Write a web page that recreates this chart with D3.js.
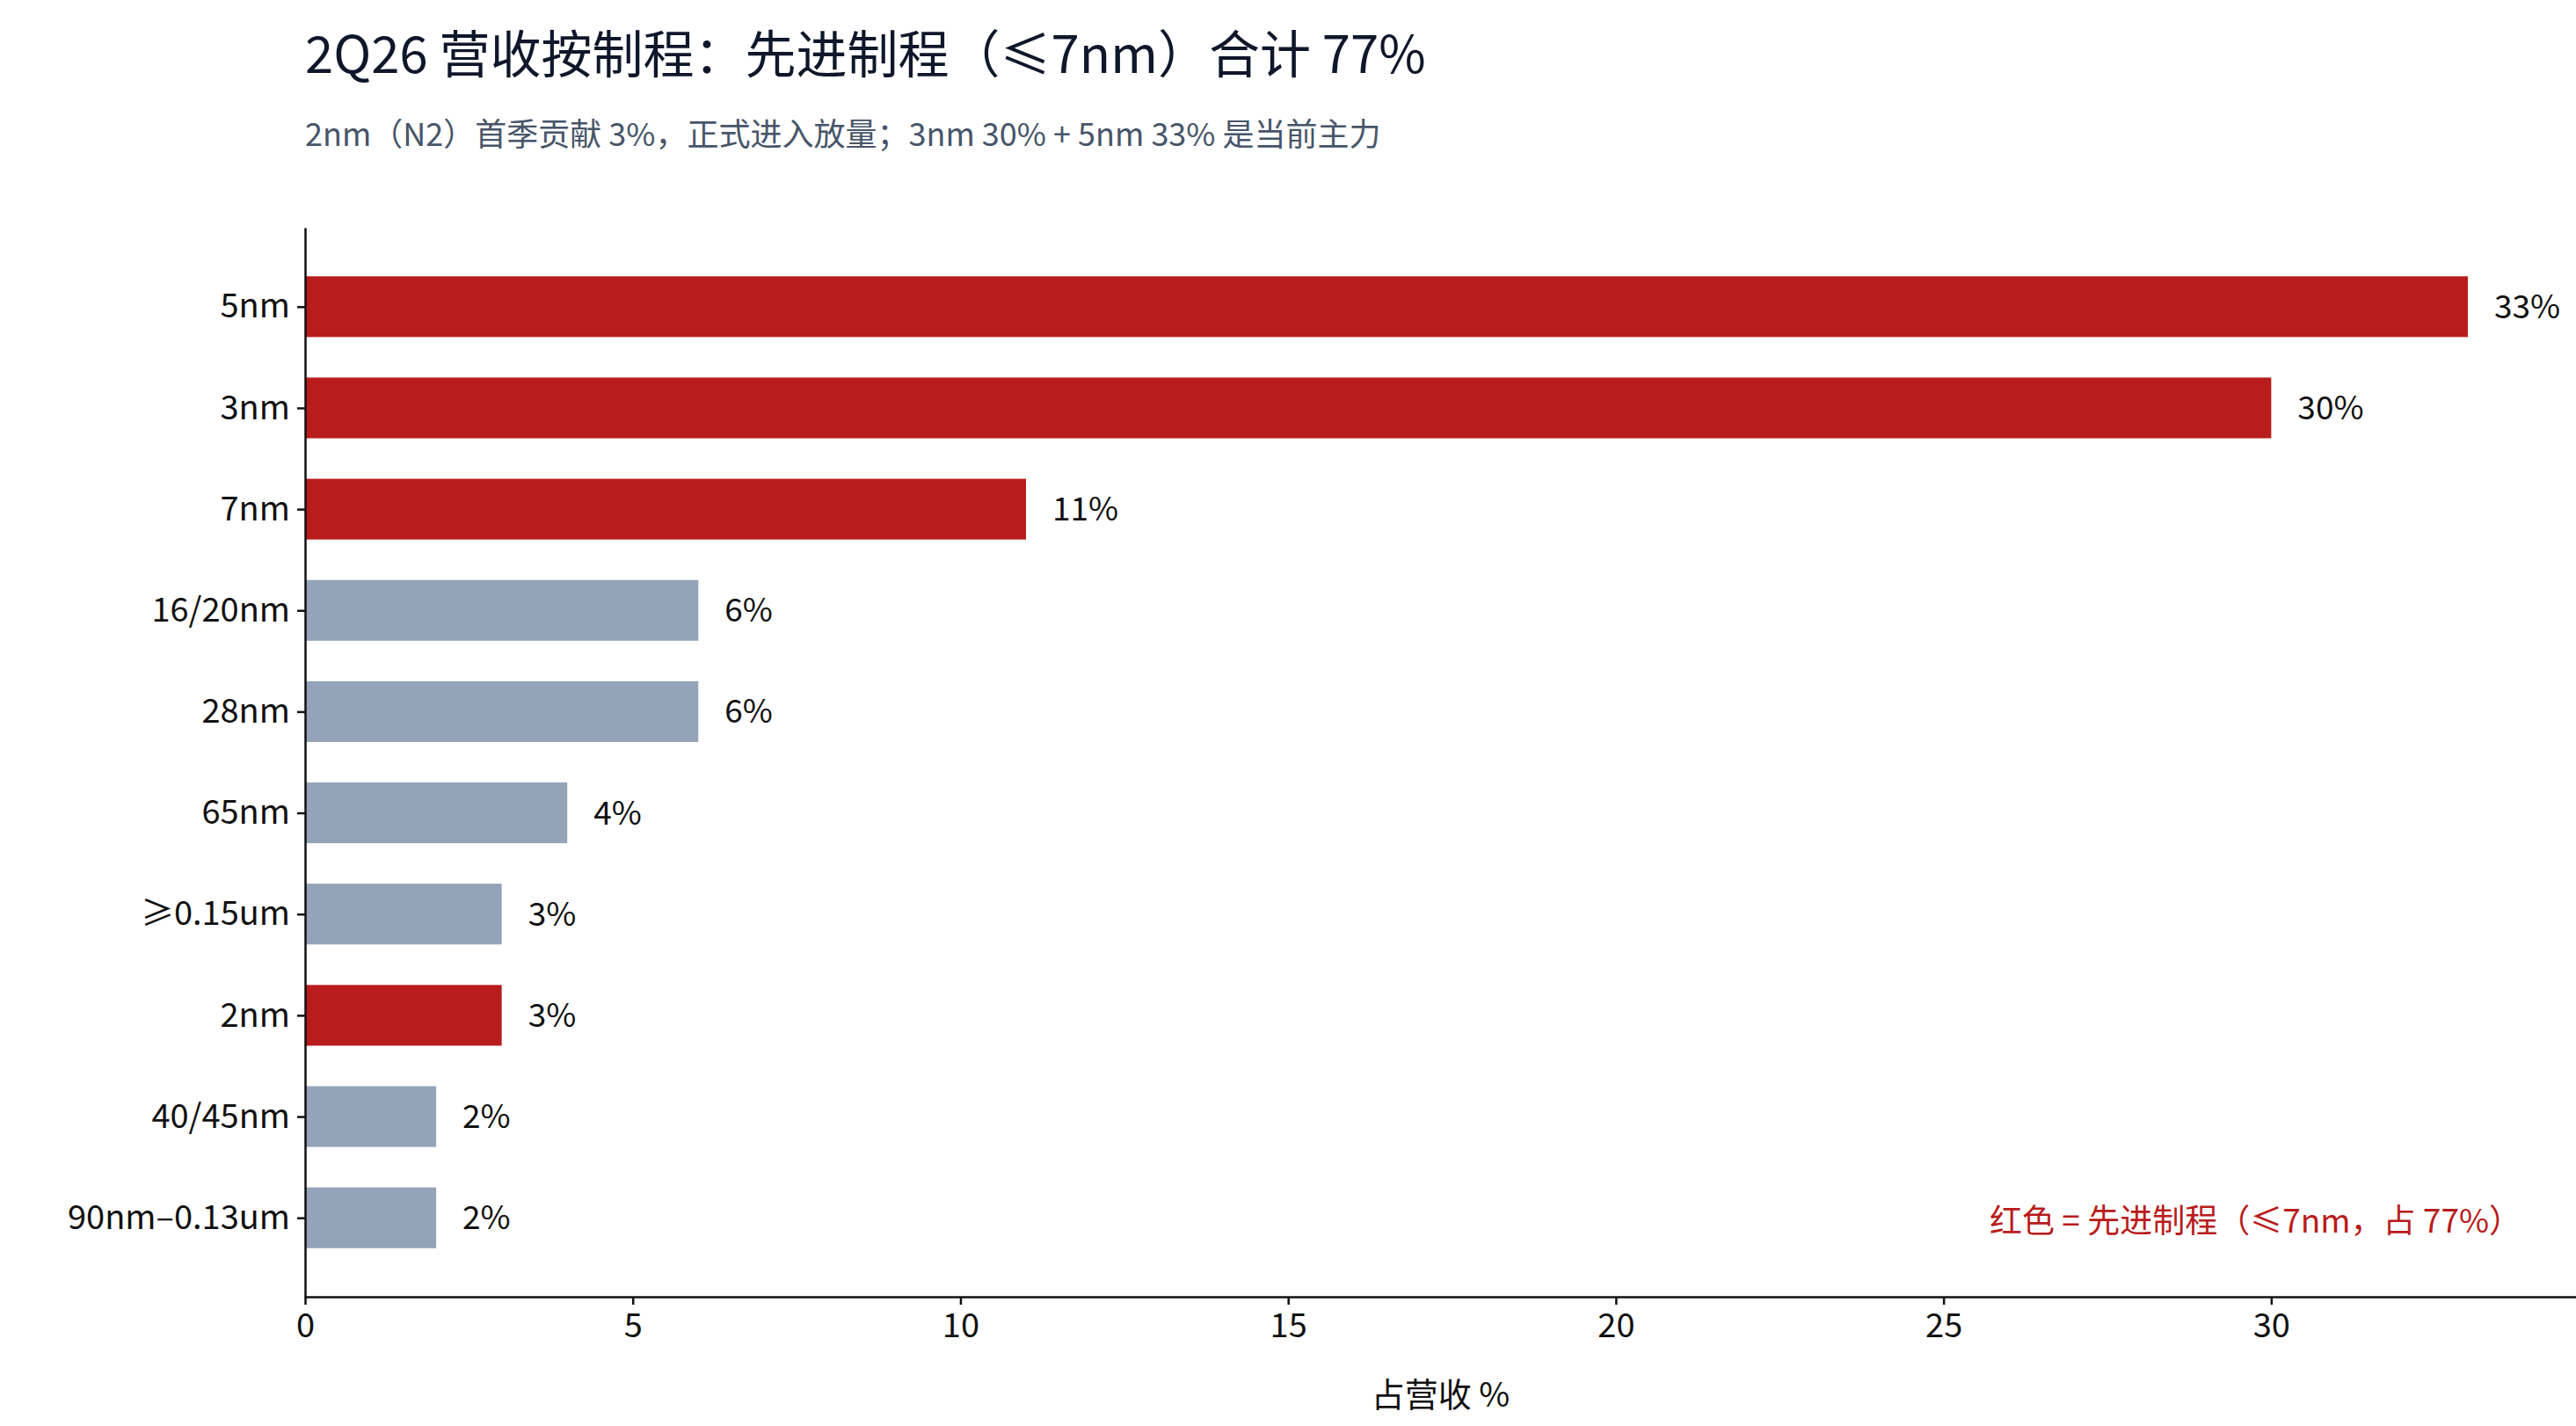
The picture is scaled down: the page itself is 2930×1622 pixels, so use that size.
<!DOCTYPE html>
<html>
<head>
<meta charset="utf-8">
<script src="https://cdn.jsdelivr.net/npm/d3@7"></script>
<style>
  body { margin: 0; background: #fff; }
  text { font-family: "Noto Sans CJK SC", "Noto Sans", sans-serif; }
</style>
</head>
<body>
<svg id="chart" width="2930" height="1622"></svg>
<script>
// 数据
const nodes = ["5nm", "3nm", "7nm", "16/20nm", "28nm", "65nm", "≥0.15um", "2nm", "40/45nm", "90nm–0.13um"];
const shares = [33, 30, 11, 6, 6, 4, 3, 3, 2, 2];
const advanced = ["5nm", "3nm", "7nm", "2nm"];
const xTicks = [0, 5, 10, 15, 20, 25, 30];

const W = 2930, H = 1622;
const m = {left: 347, right: 2930, top: 259, bottom: 1475};
const svg = d3.select("#chart");

const x = d3.scaleLinear().domain([0, 34.65]).range([m.left, m.right]);
// 上から順に並べる（matplotlib風の余白）
const y = d3.scaleLinear().domain([-0.78, 9.78]).range([m.top, m.bottom]);
const barH = y(0.6) - y(0);

svg.selectAll("rect.bar")
  .data(nodes)
  .enter().append("rect")
  .attr("class", "bar")
  .attr("x", x(0))
  .attr("y", (d, i) => y(i - 0.3))
  .attr("width", (d, i) => x(shares[i]) - x(0))
  .attr("height", barH)
  .attr("fill", d => advanced.includes(d) ? "#b91c1c" : "#94a3b8");

svg.selectAll("text.val")
  .data(nodes)
  .enter().append("text")
  .attr("x", (d, i) => x(shares[i]) + 30)
  .attr("y", (d, i) => y(i))
  .attr("dy", "0.35em")
  .attr("font-size", 37)
  .attr("fill", "#111")
  .text((d, i) => shares[i] + "%");

// 軸
const yAxis = d3.axisLeft(d3.scaleLinear().domain(y.domain()).range(y.range()))
  .tickValues(d3.range(nodes.length))
  .tickFormat(i => nodes[i])
  .tickSize(9).tickPadding(8).tickSizeOuter(0);
const gy = svg.append("g").attr("transform", `translate(${m.left},0)`).call(yAxis);

const xAxis = d3.axisBottom(x).tickValues(xTicks).tickSize(9).tickPadding(10).tickSizeOuter(0);
const gx = svg.append("g").attr("transform", `translate(0,${m.bottom})`).call(xAxis);

[gx, gy].forEach(g => {
  g.select(".domain").attr("stroke", "#111").attr("stroke-width", 2.5);
  g.selectAll(".tick line").attr("stroke", "#111").attr("stroke-width", 2.5);
  g.selectAll(".tick text").attr("font-size", 38).attr("fill", "#111")
    .style("font-family", '"Noto Sans CJK SC", sans-serif');
});

svg.append("text")
  .attr("x", (m.left + m.right) / 2).attr("y", 1600)
  .attr("text-anchor", "middle").attr("font-size", 38).attr("fill", "#111")
  .text("占营收 %");

svg.append("text")
  .attr("x", 347).attr("y", 83)
  .attr("font-size", 58).attr("fill", "#0f172a")
  .text("2Q26 营收按制程：先进制程（≤7nm）合计 77%");

svg.append("text")
  .attr("x", 347).attr("y", 166)
  .attr("font-size", 36).attr("fill", "#475569")
  .text("2nm（N2）首季贡献 3%，正式进入放量；3nm 30% + 5nm 33% 是当前主力");

svg.append("text")
  .attr("x", 2868).attr("y", 1402)
  .attr("text-anchor", "end").attr("font-size", 37).attr("fill", "#b91c1c")
  .text("红色 = 先进制程（≤7nm，占 77%）");
</script>
</body>
</html>
